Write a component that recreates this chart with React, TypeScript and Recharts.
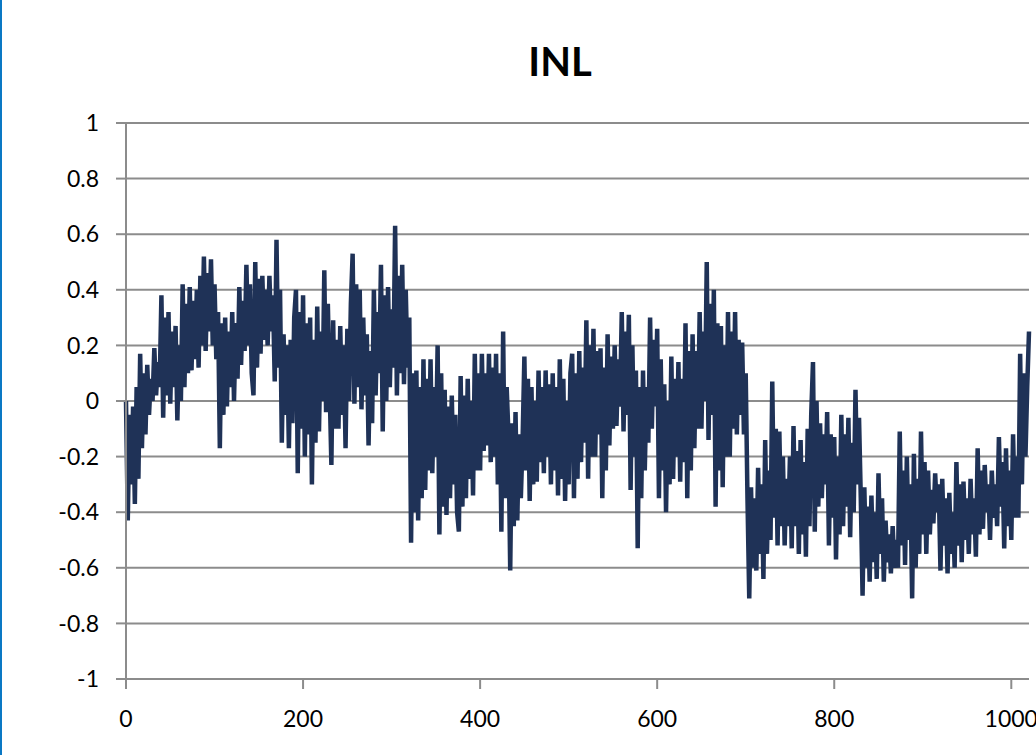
import React from 'react';
import { LineChart, Line, XAxis, YAxis, CartesianGrid } from 'recharts';

const codeStep = 2;
const inlValues = [
  0.0, -0.43, -0.05, -0.3, -0.02, -0.37, 0.05, -0.28, 0.17, -0.17, 0.1, -0.12, 0.13, -0.05, 0.08, 0.0, 0.19, 0.02, 0.14, 0.05,
  0.38, -0.06, 0.3, 0.02, 0.32, -0.01, 0.25, 0.05, 0.27, -0.07, 0.2, 0.0, 0.42, 0.05, 0.35, 0.1, 0.41, 0.11, 0.36, 0.15,
  0.4, 0.12, 0.45, 0.2, 0.52, 0.18, 0.46, 0.25, 0.51, 0.2, 0.42, 0.15, 0.32, -0.17, 0.28, -0.05, 0.3, -0.02, 0.25, 0.05,
  0.32, 0.0, 0.28, 0.08, 0.41, 0.13, 0.36, 0.18, 0.49, 0.2, 0.42, 0.1, 0.02, 0.5, 0.12, 0.44, 0.17, 0.45, 0.22, 0.4,
  0.2, 0.45, 0.25, 0.38, 0.07, 0.58, 0.12, 0.4, -0.15, 0.24, -0.05, 0.2, -0.17, 0.22, -0.08, 0.3, 0.4, -0.26, 0.32, -0.1,
  0.38, -0.2, 0.28, -0.12, 0.3, -0.3, 0.22, -0.15, 0.34, -0.11, 0.25, 0.0, 0.47, -0.04, 0.35, 0.05, -0.23, 0.29, -0.1, 0.22,
  -0.1, 0.27, -0.05, 0.2, -0.17, 0.26, 0.0, 0.35, 0.53, -0.01, 0.42, 0.05, 0.4, -0.03, 0.3, 0.02, 0.24, -0.16, 0.18, -0.08,
  0.4, 0.02, 0.32, 0.1, 0.49, -0.11, 0.38, 0.0, 0.41, 0.05, 0.33, 0.12, 0.63, 0.02, 0.45, 0.1, 0.49, 0.06, 0.4, 0.12,
  0.3, -0.51, 0.1, -0.4, 0.11, -0.43, 0.05, -0.35, 0.15, -0.32, 0.08, -0.25, 0.15, -0.26, 0.05, -0.2, 0.2, -0.48, 0.1, -0.38,
  0.04, -0.41, -0.02, -0.35, 0.02, -0.3, -0.05, -0.4, -0.47, 0.09, -0.38, 0.02, -0.35, 0.08, -0.28, 0.0, -0.34, 0.17, -0.25, 0.1,
  -0.25, 0.17, -0.18, 0.1, -0.16, 0.17, -0.22, 0.12, -0.2, 0.17, -0.3, 0.1, -0.47, 0.25, -0.35, 0.05, -0.12, -0.61, -0.08, -0.45,
  -0.04, -0.43, -0.12, -0.35, -0.14, 0.16, -0.25, 0.08, -0.36, 0.05, -0.3, 0.0, -0.29, 0.11, -0.22, 0.05, -0.26, 0.11, -0.2, 0.06,
  -0.3, 0.1, -0.25, 0.05, -0.34, 0.15, -0.28, 0.08, -0.36, 0.0, -0.3, 0.1, 0.17, -0.35, 0.1, -0.28, 0.18, -0.22, 0.12, -0.15,
  0.29, -0.28, 0.2, -0.2, 0.26, -0.2, 0.18, -0.12, 0.19, -0.35, 0.12, -0.25, 0.24, -0.16, 0.16, -0.1, 0.2, -0.09, 0.15, -0.02,
  0.32, -0.11, 0.25, -0.05, 0.31, -0.32, 0.2, -0.2, 0.11, -0.53, 0.05, -0.35, 0.11, -0.25, 0.05, -0.15, 0.3, -0.1, 0.22, -0.02,
  0.26, -0.35, 0.15, -0.25, 0.06, -0.4, 0.0, -0.3, 0.16, -0.28, 0.08, -0.2, 0.14, -0.29, 0.08, -0.22, 0.28, -0.35, 0.18, -0.25,
  0.24, -0.17, 0.18, -0.1, 0.32, -0.1, 0.25, 0.0, 0.5, -0.14, 0.35, -0.05, 0.4, -0.38, 0.28, -0.25, 0.27, -0.31, 0.2, -0.2,
  0.32, -0.2, 0.25, -0.1, 0.32, -0.12, 0.22, -0.05, 0.21, -0.12, 0.1, -0.35, -0.71, -0.31, -0.6, -0.35, -0.61, -0.24, -0.55, -0.3,
  -0.64, -0.14, -0.55, -0.25, -0.5, 0.07, -0.42, -0.1, -0.52, -0.11, -0.45, -0.2, -0.52, -0.28, -0.45, -0.2, -0.53, -0.09, -0.45, -0.18,
  -0.55, -0.14, -0.48, -0.22, -0.56, -0.1, -0.45, -0.05, 0.14, -0.47, 0.0, -0.38, -0.08, -0.35, -0.12, -0.3, -0.04, -0.52, -0.12, -0.42,
  -0.13, -0.57, -0.2, -0.48, -0.05, -0.45, -0.12, -0.38, -0.06, -0.49, -0.15, -0.4, 0.04, -0.3, -0.06, -0.35, -0.7, -0.31, -0.6, -0.38,
  -0.65, -0.34, -0.58, -0.4, -0.64, -0.26, -0.55, -0.35, -0.65, -0.43, -0.58, -0.48, -0.62, -0.45, -0.6, -0.5, -0.6, -0.11, -0.52, -0.25,
  -0.59, -0.2, -0.5, -0.3, -0.71, -0.19, -0.6, -0.28, -0.55, -0.11, -0.48, -0.22, -0.55, -0.25, -0.48, -0.32, -0.44, -0.26, -0.4, -0.3,
  -0.61, -0.28, -0.52, -0.35, -0.62, -0.33, -0.55, -0.4, -0.6, -0.22, -0.52, -0.3, -0.58, -0.29, -0.5, -0.35, -0.55, -0.28, -0.48, -0.35,
  -0.56, -0.17, -0.48, -0.25, -0.46, -0.23, -0.4, -0.3, -0.5, -0.25, -0.42, -0.3, -0.45, -0.13, -0.38, -0.22, -0.53, -0.17, -0.45, -0.25,
  -0.5, -0.12, -0.42, -0.2, -0.42, 0.17, -0.3, 0.1, -0.2, 0.05, 0.25,
];

const xTicks = [0, 200, 400, 600, 800, 1000];
const yTicks = [-1, -0.8, -0.6, -0.4, -0.2, 0, 0.2, 0.4, 0.6, 0.8, 1];

const data = inlValues.map((v, i) => ({ code: i * codeStep, inl: v }));

const axisGray = '#8c8c8c';
const tickFont = { fill: '#000', fontSize: 23, fontFamily: 'Lato' };

export default function App() {
  return (
    <div style={{ position: 'absolute', left: 0, top: 0, width: 1036, height: 755, background: '#fff' }}>
      <div style={{ position: 'absolute', left: 0, top: 0, width: 2, height: 755, background: '#0a78c4' }} />
      <div
        style={{
          position: 'absolute', left: 460, top: 41, width: 200, textAlign: 'center',
          fontFamily: 'Lato', fontWeight: 'bold', fontSize: 40, lineHeight: '40px', color: '#000',
        }}
      >
        INL
      </div>
      <LineChart width={1036} height={755} data={data} margin={{ top: 123, right: 7, bottom: 36, left: 0 }}>
        <CartesianGrid vertical={false} stroke={axisGray} strokeWidth={2} />
        <XAxis
          type="number"
          dataKey="code"
          domain={[0, 1020]}
          ticks={xTicks}
          height={40}
          tickSize={10}
          tickMargin={22}
          axisLine={{ stroke: axisGray, strokeWidth: 2 }}
          tickLine={{ stroke: axisGray, strokeWidth: 2 }}
          tick={tickFont}
        />
        <YAxis
          type="number"
          domain={[-1, 1]}
          ticks={yTicks}
          width={126}
          tickSize={10}
          tickMargin={17}
          axisLine={{ stroke: axisGray, strokeWidth: 2 }}
          tickLine={{ stroke: axisGray, strokeWidth: 2 }}
          tick={tickFont}
        />
        <Line
          type="linear"
          dataKey="inl"
          stroke="#1f3257"
          strokeWidth={4.5}
          dot={false}
          isAnimationActive={false}
        />
      </LineChart>
    </div>
  );
}
